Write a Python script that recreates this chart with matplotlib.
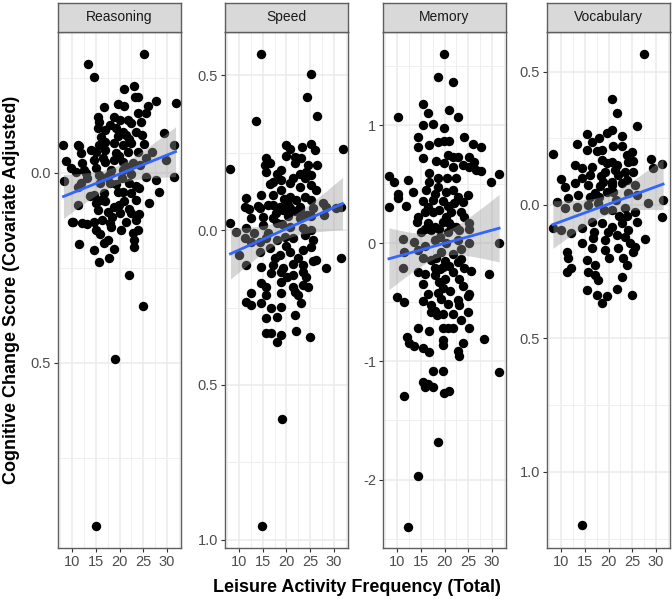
import numpy as np
import matplotlib
matplotlib.use("Agg")
import matplotlib.pyplot as plt

plt.rcParams['font.family'] = ['Liberation Sans', 'DejaVu Sans']

# ---- data ----
panel_names = ["Reasoning", "Speed", "Memory", "Vocabulary"]

reasoning_x = [25.2, 13.4, 14.6, 23.0, 21.0, 23.2, 23.9, 27.7, 31.8, 19.6, 21.0, 16.8, 25.9, 25.6, 23.9,
               18.9, 15.4, 15.7, 21.7, 22.4, 24.5, 15.4, 17.0, 19.3, 20.7, 19.7, 21.4, 23.5, 24.7, 29.4,
               8.2, 11.2, 15.7, 17.0, 18.9, 20.7, 22.4, 25.2, 31.5, 11.9, 15.0, 17.0, 19.3, 21.7, 23.8,
               8.7, 12.2, 14.7, 17.0, 18.9, 20.7, 22.8, 25.6, 29.8, 9.8, 12.6, 15.0, 18.2, 20.7, 22.1,
               8.4, 10.8, 12.9, 15.7, 18.0, 20.5, 22.4, 25.6, 27.7, 31.5, 11.9, 15.8, 17.9, 22.0, 23.5,
               24.2, 28.4, 14.7, 16.8, 19.6, 22.4, 11.2, 15.0, 17.0, 18.9, 21.0, 23.5, 26.3, 15.4, 17.5,
               20.0, 22.4, 24.2, 10.1, 12.2, 14.7, 17.9, 21.4, 23.5, 15.0, 18.2, 23.8, 15.8, 17.5, 23.1,
               11.4, 16.8, 23.1, 14.7, 18.9, 15.6, 17.7, 22.0, 25.0, 19.0, 15.0,
               11.5, 13.1, 11.2, 10.2, 13.1, 22.9,
               16.2, 18.0, 20.2, 22.0, 16.5, 19.9, 21.3, 17.3, 19.2, 20.8, 16.0, 19.8, 21.9, 18.5, 20.3,
               16.4, 13.8, 14.0, 24.4, 26.8]
reasoning_y = [0.312, 0.287, 0.253, 0.230, 0.220, 0.201, 0.199, 0.190, 0.185, 0.182, 0.175, 0.173, 0.177, 0.157, 0.157,
               0.148, 0.148, 0.133, 0.139, 0.131, 0.133, 0.118, 0.113, 0.118, 0.109, 0.098, 0.100, 0.107, 0.100, 0.104,
               0.074, 0.074, 0.074, 0.082, 0.080, 0.074, 0.078, 0.076, 0.074, 0.052, 0.054, 0.061, 0.052, 0.056, 0.056,
               0.032, 0.026, 0.034, 0.030, 0.034, 0.030, 0.026, 0.039, 0.034, 0.012, 0.008, 0.012, 0.008, 0.008, 0.017,
               -0.020, 0.003, -0.001, -0.005, -0.002, -0.012, -0.003, -0.010, -0.018, -0.010, -0.027, -0.027, -0.027, -0.027, -0.034,
               -0.040, -0.049, -0.058, -0.054, -0.049, -0.054, -0.084, -0.080, -0.075, -0.089, -0.075, -0.071, -0.080, -0.097, -0.102,
               -0.106, -0.106, -0.108, -0.128, -0.132, -0.128, -0.132, -0.128, -0.124, -0.150, -0.143, -0.150, -0.161, -0.176, -0.176,
               -0.187, -0.185, -0.194, -0.203, -0.201, -0.233, -0.225, -0.268, -0.350, -0.490, -0.930,
               0.070, -0.014, -0.036, -0.130, -0.135, -0.159,
               0.095, 0.125, 0.140, 0.090, 0.040, 0.045, 0.015, -0.010, -0.030, -0.050, -0.070, -0.085, -0.095, -0.115, -0.150,
               -0.125, -0.060, 0.060, 0.020, 0.055]

speed_x = [14.7, 25.2, 24.3, 26.4, 13.5,
           20.0, 20.7, 23.3, 25.2, 25.9, 31.8,
           15.7, 19.8, 21.7, 23.1, 24.5, 26.4, 8.2,
           15.4, 16.5, 15.7, 18.9, 21.7, 24.2, 25.2, 23.8,
           17.2, 18.9, 20.7, 21.4, 22.8, 25.2, 26.3,
           11.5, 14.7, 17.2, 18.9, 20.7, 22.1, 23.8, 25.2,
           11.2, 14.0, 16.1, 18.6, 20.3, 22.8, 27.7, 31.5,
           12.0, 14.4, 17.2, 19.3, 20.7, 22.8, 25.6, 28.4, 30.5,
           12.6, 15.0, 17.2, 20.3, 22.8, 25.2, 28.0, 8.2,
           9.4, 11.5, 15.0, 17.9, 20.7, 23.5, 25.2,
           11.2, 12.6, 14.4, 15.7, 17.9, 19.6, 21.4, 23.8, 25.6,
           10.1, 14.4, 16.5, 18.6, 20.7, 23.5, 25.2, 26.3, 31.5,
           11.5, 14.7, 17.2, 19.3, 21.4, 23.5, 25.6, 28.4,
           16.8, 18.9, 21.4, 23.5, 24.2,
           14.7, 18.9, 21.4, 23.5, 24.5, 15.7,
           12.6, 15.7, 18.9, 21.7, 22.4,
           11.5, 14.7, 12.6, 16.8, 18.9, 23.1,
           15.7, 17.9, 21.7,
           15.7, 16.8, 18.9, 22.1, 25.0, 17.9,
           19.0, 14.8,
           16.5, 18.0, 19.5, 17.8, 19.0, 21.8, 16.2, 19.8, 22.5, 17.6, 20.2, 13.2, 22.8, 24.4]
speed_y = [0.567, 0.505, 0.430, 0.368, 0.352,
           0.274, 0.263, 0.269, 0.276, 0.258, 0.260,
           0.234, 0.240, 0.237, 0.231, 0.210, 0.210, 0.197,
           0.210, 0.215, 0.188, 0.194, 0.215, 0.188, 0.177, 0.167,
           0.156, 0.161, 0.151, 0.167, 0.140, 0.145, 0.129,
           0.102, 0.113, 0.113, 0.129, 0.108, 0.097, 0.108, 0.097,
           0.075, 0.077, 0.081, 0.075, 0.081, 0.075, 0.086, 0.075,
           0.068, 0.070, 0.081, 0.065, 0.070, 0.065, 0.070, 0.075, 0.070,
           0.039, 0.042, 0.039, 0.045, 0.039, 0.045, 0.050, 0.022,
           -0.005, 0.005, 0.016, 0.022, 0.011, 0.005, 0.000,
           -0.027, -0.038, -0.038, -0.027, -0.032, -0.022, -0.027, -0.016, -0.032,
           -0.081, -0.070, -0.059, -0.081, -0.070, -0.065, -0.054, -0.097, -0.091,
           -0.113, -0.118, -0.113, -0.124, -0.108, -0.113, -0.100, -0.124,
           -0.140, -0.134, -0.145, -0.134, -0.151,
           -0.172, -0.167, -0.183, -0.177, -0.183, -0.183,
           -0.204, -0.210, -0.204, -0.199, -0.210,
           -0.231, -0.237, -0.242, -0.253, -0.247, -0.237,
           -0.285, -0.280, -0.274,
           -0.333, -0.333, -0.339, -0.326, -0.344, -0.360,
           -0.611, -0.954,
           0.150, 0.180, 0.100, 0.055, 0.020, 0.060, -0.010, -0.050, -0.090, -0.090, -0.150, -0.010, 0.180, 0.050]

memory_x = [19.8, 18.7, 21.7, 15.5, 16.6, 21.0, 22.8, 10.3,
            15.5, 17.6, 19.8,
            14.5, 14.5, 16.7, 18.7, 19.8, 21.0, 24.2, 25.9, 27.7,
            15.5, 20.7, 21.7, 22.9, 19.9, 21.7, 23.8, 25.2, 26.3, 25.2, 26.6, 27.7,
            8.3, 9.3, 12.4, 13.4, 10.3, 10.3, 11.9, 8.3, 31.5, 29.8,
            16.7, 16.7, 18.7, 18.7, 17.9, 20.3, 21.7, 22.8, 24.9, 19.6, 20.7, 22.1, 23.8, 15.4, 16.5,
            14.4, 15.8, 17.5, 18.9, 20.3, 21.4, 23.5, 24.2, 25.2,
            14.2, 16.5, 17.9, 19.6, 21.0, 22.4,
            15.8, 17.2, 18.9, 20.7, 21.4, 23.1, 25.2, 15.1,
            11.2, 13.6, 15.8, 17.9, 20.3, 22.8, 25.2, 31.5,
            11.5, 14.4, 15.4, 17.2, 19.3, 21.7, 23.5, 11.2,
            17.9, 19.6, 21.0, 22.8, 23.5, 21.7, 24.2, 25.6, 29.4, 14.4, 15.8, 17.9,
            15.4, 18.9, 19.6, 23.1, 23.8, 25.2, 24.9,
            10.1, 11.4, 16.5, 15.4, 17.2, 19.3, 20.7, 22.8, 23.1,
            17.2, 18.5, 17.9, 19.6, 21.7, 24.9, 23.5,
            14.4, 16.8, 19.6, 20.7, 21.7, 25.2, 28.4,
            12.2, 12.6, 13.6, 19.6, 19.6, 23.8, 15.4, 16.8, 22.8, 23.1,
            17.5, 19.6, 31.5,
            15.4, 16.5, 15.8, 17.5, 21.0, 19.9, 11.4,
            18.7, 14.5, 12.4,
            18.3, 20.5, 17.5, 19.0, 18.2, 20.0, 18.6, 21.2, 16.0, 22.5, 20.2, 19.0]
memory_y = [1.60, 1.41, 1.37, 1.18, 1.10, 1.13, 1.07, 1.07,
            1.00, 1.01, 0.98,
            0.90, 0.82, 0.83, 0.86, 0.87, 0.87, 0.90, 0.845, 0.82,
            0.72, 0.75, 0.73, 0.73, 0.68, 0.65, 0.66, 0.73, 0.69, 0.65, 0.62, 0.61,
            0.57, 0.52, 0.54, 0.435, 0.42, 0.38, 0.32, 0.31, 0.585, 0.52,
            0.60, 0.52, 0.55, 0.48, 0.42, 0.435, 0.45, 0.39, 0.41, 0.36, 0.32, 0.34, 0.35, 0.36, 0.31,
            0.22, 0.265, 0.265, 0.28, 0.22, 0.265, 0.265, 0.22, 0.17,
            0.18, 0.17, 0.14, 0.18, 0.17, 0.14,
            0.12, 0.11, 0.125, 0.095, 0.15, 0.11, 0.125, 0.095,
            0.04, 0.01, -0.02, 0.025, 0.0, 0.025, 0.0, 0.0,
            -0.07, -0.06, -0.12, -0.14, -0.07, -0.09, -0.045, -0.21,
            -0.21, -0.20, -0.19, -0.16, -0.13, -0.24, -0.21, -0.23, -0.26, -0.24, -0.26, -0.27,
            -0.34, -0.33, -0.38, -0.30, -0.36, -0.43, -0.45,
            -0.455, -0.50, -0.43, -0.49, -0.525, -0.47, -0.51, -0.48, -0.525,
            -0.58, -0.61, -0.57, -0.60, -0.60, -0.58, -0.65,
            -0.72, -0.74, -0.72, -0.72, -0.72, -0.72, -0.81,
            -0.79, -0.84, -0.87, -0.82, -0.86, -0.84, -0.89, -0.92, -0.91, -0.95,
            -1.08, -1.08, -1.09,
            -1.175, -1.19, -1.22, -1.22, -1.25, -1.27, -1.29,
            -1.68, -1.97, -2.40,
            0.70, 0.55, 0.37, 0.05, -0.12, -0.30, -0.42, -0.40, 0.45, 0.55, -0.15, -0.22]

vocabulary_x = [27.5, 20.7, 21.7, 26.1, 19.6, 20.7, 15.4, 22.8, 13.3, 16.5, 22.8, 8.3,
                15.4, 17.5, 18.6, 24.9, 23.8,
                18.6, 19.6, 20.7, 21.7, 24.2, 25.2, 29.0, 31.2, 29.4,
                14.4, 16.5, 19.3, 21.4, 23.5, 25.2, 22.1,
                10.1, 14.4, 16.1, 18.9, 20.7, 23.8,
                10.8, 12.9, 15.7, 18.2, 20.7, 22.8, 25.6,
                9.1, 11.5, 13.6, 17.2, 19.6, 24.2, 25.9, 28.4, 31.5,
                10.8, 13.3, 15.7, 17.8, 20.7, 23.5, 25.6,
                8.3, 10.0, 12.2, 14.4, 16.5, 18.6, 20.7, 22.8, 24.2, 26.1, 31.2,
                14.4, 16.8, 19.3, 21.7, 23.5, 24.5, 27.7,
                11.2, 11.4, 15.4, 17.2, 19.3, 23.1, 25.2, 25.6, 23.8,
                12.2, 11.2, 15.7, 17.2, 17.8, 22.8,
                15.4, 17.5, 19.6, 21.7, 24.9, 18.6,
                14.5,
                16.0, 18.0, 19.0, 21.5, 22.2, 17.0, 19.8, 21.0, 18.5, 20.0, 22.0, 16.5, 13.0, 21.0, 24.0, 18.0]
vocabulary_y = [0.564, 0.396, 0.343, 0.297, 0.271, 0.281, 0.265, 0.260, 0.228, 0.237, 0.222, 0.190,
                0.206, 0.202, 0.206, 0.200, 0.187,
                0.169, 0.156, 0.160, 0.150, 0.160, 0.165, 0.172, 0.152, 0.140,
                0.140, 0.143, 0.125, 0.131, 0.125, 0.122, 0.112,
                0.097, 0.100, 0.112, 0.087, 0.087, 0.094,
                0.069, 0.081, 0.075, 0.070, 0.075, 0.081, 0.075,
                0.012, 0.025, 0.037, 0.044, 0.050, 0.044, 0.037, 0.006, 0.019,
                -0.012, -0.006, 0.000, 0.006, -0.019, -0.012, -0.025,
                -0.087, -0.094, -0.106, -0.087, -0.062, -0.069, -0.081, -0.069, -0.094, -0.062, -0.044,
                -0.143, -0.125, -0.131, -0.112, -0.119, -0.143, -0.128,
                -0.175, -0.200, -0.206, -0.225, -0.169, -0.200, -0.175, -0.156, -0.225,
                -0.237, -0.250, -0.250, -0.262, -0.281, -0.271,
                -0.318, -0.337, -0.341, -0.316, -0.337, -0.366,
                -1.200,
                0.030, 0.030, -0.020, 0.020, -0.040, -0.100, -0.100, 0.050, 0.110, -0.200, -0.160, -0.160, 0.150, 0.220, -0.040, 0.250]

x_ticks = [10, 15, 20, 25, 30]
y_ticks = [[0.0, -0.5], [0.5, 0.0, -0.5, -1.0], [1, 0, -1, -2], [0.5, 0.0, -0.5, -1.0]]
y_ticklabels = [["0.0", "0.5"], ["0.5", "0.0", "0.5", "1.0"], ["1", "0", "-1", "-2"],
                ["0.5", "0.0", "0.5", "1.0"]]

xs_all = [reasoning_x, speed_x, memory_x, vocabulary_x]
ys_all = [reasoning_y, speed_y, memory_y, vocabulary_y]

# ---- layout (pixel based, figure is 672 x 600) ----
W, H = 672, 600
lefts = [58, 225, 383, 547]
pw = 123
ptop, pbot = 32, 548
stop = 3
ylims = [(-0.987, 0.371), (-1.026, 0.639), (-2.58, 1.79), (-1.285, 0.648)]
xlim = (7.05, 32.95)
edge = "#5E5E5E"


def fit_band(x, y, t=1.97):
    x = np.asarray(x, float)
    y = np.asarray(y, float)
    b, a = np.polyfit(x, y, 1)
    xs = np.linspace(x.min(), x.max(), 80)
    yhat = a + b * xs
    resid = y - (a + b * x)
    n = len(x)
    s = np.sqrt(np.sum(resid ** 2) / (n - 2))
    se = s * np.sqrt(1 / n + (xs - x.mean()) ** 2 / np.sum((x - x.mean()) ** 2))
    return xs, yhat, yhat - t * se, yhat + t * se


fig = plt.figure(figsize=(W / 100, H / 100), dpi=100)

for i, name in enumerate(panel_names):
    l = lefts[i] / W
    ax = fig.add_axes([l, 1 - pbot / H, pw / W, (pbot - ptop) / H])
    x, y = xs_all[i], ys_all[i]

    ax.scatter(x, y, s=46, c="black", linewidths=0, zorder=2)
    fx, fy, lo, hi = fit_band(x, y)
    ax.fill_between(fx, lo, hi, color="#999999", alpha=0.4, linewidth=0, zorder=3)
    ax.plot(fx, fy, color="#3366FF", lw=2, zorder=4)

    ax.set_xlim(*xlim)
    ax.set_ylim(*ylims[i])
    ax.set_xticks(x_ticks)
    ax.set_xticks([7.5, 12.5, 17.5, 22.5, 27.5, 32.5], minor=True)
    yt = y_ticks[i]
    ax.set_yticks(yt)
    ax.set_yticklabels(y_ticklabels[i])
    step = abs(yt[0] - yt[1])
    lo_y, hi_y = ylims[i]
    minor = np.arange(yt[-1] - step * 1.5, yt[0] + step, step)
    ax.set_yticks([m for m in minor if lo_y < m < hi_y], minor=True)

    ax.grid(True, which="major", color="#EBEBEB", lw=1.1, zorder=0)
    ax.grid(True, which="minor", color="#EFEFEF", lw=0.7, zorder=0)
    ax.set_axisbelow(True)
    ax.tick_params(which="major", length=3, width=0.8, color="#333333",
                   labelsize=10.5, labelcolor="#4D4D4D", pad=2)
    ax.tick_params(which="minor", length=0)
    for sp in ax.spines.values():
        sp.set_color(edge)
        sp.set_linewidth(1.0)

    # strip on top
    sax = fig.add_axes([l, 1 - ptop / H, pw / W, (ptop - stop) / H])
    sax.set_facecolor("#D9D9D9")
    sax.set_xticks([])
    sax.set_yticks([])
    for sp in sax.spines.values():
        sp.set_color(edge)
        sp.set_linewidth(1.0)
    sax.text(0.5, 0.5, name, ha="center", va="center", fontsize=10,
             color="#1A1A1A", transform=sax.transAxes)

fig.text(0.017, 1 - 290 / H, "Cognitive Change Score (Covariate Adjusted)", rotation=90,
         ha="center", va="center", fontsize=13, fontweight="bold")
fig.text(357 / W, 1 - 588 / H, "Leisure Activity Frequency (Total)",
         ha="center", va="center", fontsize=13, fontweight="bold")

fig.savefig("out.png", dpi=100)
